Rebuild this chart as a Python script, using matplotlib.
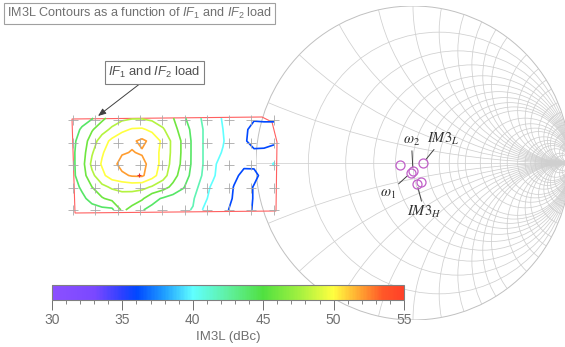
import matplotlib
matplotlib.use("Agg")
import matplotlib.pyplot as plt
import numpy as np
from matplotlib.cm import ScalarMappable
from matplotlib.colors import LinearSegmentedColormap, Normalize
from matplotlib.patches import Circle, Polygon
from matplotlib.ticker import MultipleLocator

plt.rcParams["font.family"] = ["Liberation Sans", "DejaVu Sans"]
plt.rcParams["mathtext.fontset"] = "custom"
plt.rcParams["mathtext.rm"] = "Liberation Sans"
plt.rcParams["mathtext.it"] = "Liberation Sans:italic"
plt.rcParams["mathtext.bf"] = "Liberation Sans:bold"

W, H = 565, 347

# Smith chart grid (normalised resistance / reactance)
smith_r = [0.2, 0.4, 0.6, 0.8, 1.0, 1.2, 1.4, 1.6, 1.8, 2.0, 2.5, 3.0, 3.5, 4.0, 5.0, 6.0, 7.0, 8.0,
           10.0, 15.0, 20.0, 50.0]
smith_x = [0.2, 0.4, 0.6, 0.8, 1.0, 1.2, 1.4, 1.6, 1.8, 2.0, 2.5, 3.0, 3.5, 4.0, 5.0, 6.0, 7.0, 8.0,
           10.0, 15.0, 20.0, 50.0]

# tone loads on the Smith chart (reflection coefficient)
gamma_re = [-0.013, 0.000, 0.064, 0.025, -0.083, 0.054]
gamma_im = [-0.061, -0.054, 0.000, -0.131, -0.013, -0.121]

# labels: text, text position (gamma), index of the load it points to
label_text = [r"$\omega_{1}$", r"$\omega_{2}$", r"$\mathit{IM3}_{L}$", r"$\mathit{IM3}_{H}$"]
label_re = [-0.160, -0.010, 0.190, 0.072]
label_im = [-0.195, 0.140, 0.155, -0.312]
label_target = [0, 1, 2, 3]

# IM3L map over the IF1/IF2 load plane (grid of values, dBc)
load_x = [72, 82, 92, 102, 112, 122, 132, 142, 152, 163, 173, 183, 193, 203, 213, 223, 234, 244, 254, 264, 274]
load_y = [118, 129.5, 141, 152.5, 164, 175.5, 187, 198.5, 210]
im3l = [
    [43.0, 43.4, 43.8, 45.5, 46.8, 47.5, 47.8, 47.8, 47.5, 47.0, 46.1, 44.3, 43.2, 41.7, 41.0, 39.8, 38.3, 36.8, 36.3, 36.5, 36.2],
    [43.3, 44.2, 45.8, 47.2, 48.4, 49.5, 50.2, 50.3, 49.5, 48.2, 46.8, 45.0, 43.5, 42.0, 41.2, 40.0, 38.2, 36.5, 35.2, 35.0, 35.6],
    [43.5, 44.8, 47.0, 49.0, 50.5, 51.5, 51.7, 52.4, 51.5, 49.5, 47.5, 45.6, 43.6, 42.0, 41.2, 40.2, 38.1, 36.3, 35.2, 35.0, 35.6],
    [43.6, 45.0, 47.8, 49.8, 51.0, 51.8, 52.1, 51.8, 51.0, 49.4, 47.5, 45.6, 43.6, 42.0, 41.0, 39.8, 37.8, 36.8, 36.4, 36.6, 36.8],
    [43.5, 45.2, 48.5, 50.2, 51.3, 52.7, 53.2, 52.6, 51.2, 49.3, 47.3, 45.5, 43.6, 42.0, 40.5, 39.0, 37.5, 36.4, 36.3, 36.6, 40.5],
    [43.5, 45.0, 47.5, 49.5, 51.0, 51.6, 52.2, 52.3, 50.8, 48.8, 46.8, 45.0, 43.4, 41.8, 40.4, 38.5, 36.5, 35.4, 35.6, 36.5, 37.2],
    [43.2, 44.3, 46.0, 47.5, 48.3, 48.7, 48.8, 48.6, 47.8, 46.8, 45.5, 44.2, 42.8, 41.2, 39.5, 37.5, 35.9, 35.3, 36.1, 36.5, 36.8],
    [42.8, 43.6, 44.6, 45.8, 46.6, 47.0, 46.8, 46.3, 44.6, 43.8, 43.2, 42.8, 42.2, 40.6, 39.2, 37.0, 35.8, 35.3, 36.1, 36.5, 36.6],
    [42.5, 43.0, 43.3, 43.4, 43.5, 46.3, 45.5, 44.1, 43.5, 43.1, 42.7, 42.3, 41.9, 39.9, 38.8, 36.4, 35.6, 35.3, 36.2, 36.4, 36.5],
]
levels = [36, 40, 42, 44, 46, 48, 50, 52]

# measured load points and the edge of the measured region
cross_x = [73, 95, 118, 140, 162, 185, 207, 229, 251, 274]
cross_y = [120, 143, 165, 188, 210]
border_x = [72, 262, 272, 277, 276, 75]
border_y = [119, 117, 122, 142, 211, 213]
peak_x, peak_y = 139, 175

cbar_min, cbar_max = 30, 55
cbar_ticks = [30, 35, 40, 45, 50, 55]

cmap = LinearSegmentedColormap.from_list("im3", [
    (0.00, "#8c50ff"), (0.12, "#7a48ff"), (0.20, "#2a40ff"), (0.24, "#0048ff"),
    (0.32, "#20a0ff"), (0.40, "#60ffff"), (0.50, "#60f0a0"), (0.60, "#50e040"),
    (0.70, "#a0f040"), (0.80, "#ffff40"), (0.88, "#ffa030"), (0.94, "#ff5828"),
    (1.00, "#ff4028"),
])
norm = Normalize(cbar_min, cbar_max)

GRID = "#cfcfcf"
TEXT = "#707070"

fig = plt.figure(figsize=(W / 100, H / 100), dpi=100)

# ---- Smith chart (centre 413,163 px, radius 157 px)
cx, cy, R = 413, 163, 157
sax = fig.add_axes([(cx - R) / W, (H - cy - R) / H, 2 * R / W, 2 * R / H])
sax.set_xlim(-1, 1)
sax.set_ylim(-1, 1)
sax.axis("off")
unit = Circle((0, 0), 1, fill=False, ec="#c0c0c0", lw=0.7)
sax.add_patch(unit)
for r in smith_r:
    sax.add_patch(Circle((r / (1 + r), 0), 1 / (1 + r), fill=False, ec=GRID, lw=0.55))
for x in smith_x:
    for s in (1, -1):
        arc = Circle((1, s / x), 1 / x, fill=False, ec=GRID, lw=0.55)
        sax.add_patch(arc)
        arc.set_clip_path(unit)
sax.plot([-1, 1], [0, 0], color=GRID, lw=0.55)

sax.plot(gamma_re, gamma_im, "o", ms=6.5, mfc="none", mec="#c060c8", mew=0.9, zorder=5)
for t, lx, ly, i in zip(label_text, label_re, label_im, label_target):
    sax.annotate(t, xy=(gamma_re[i], gamma_im[i]), xytext=(lx, ly), ha="center", va="center",
                 fontsize=10.5, color="#303030", math_fontfamily="stix",
                 arrowprops=dict(arrowstyle="-", color="#404040", lw=0.7, shrinkA=0, shrinkB=3))

# ---- overlay in pixel units: title, contour map, annotation
ax = fig.add_axes([0, 0, 1, 1])
ax.set_xlim(0, W)
ax.set_ylim(H, 0)
ax.axis("off")
ax.patch.set_alpha(0)

ax.contour(load_x, load_y, np.array(im3l), levels=levels, cmap=cmap, norm=norm, linewidths=1.2)
gx, gy = np.meshgrid(cross_x, cross_y)
ax.plot(gx.ravel(), gy.ravel(), "+", ms=7, color="#a8a8a8", mew=0.6)
ax.plot([peak_x], [peak_y], "+", ms=3.5, color="#e03030", mew=0.8)
ax.add_patch(Polygon(list(zip(border_x, border_y)), closed=True, fill=False, ec="#ff6060", lw=0.8))

ax.text(7, 13.5, r"IM3L Contours as a function of $IF_1$ and $IF_2$ load", fontsize=9.1,
        color=TEXT, ha="left", va="center",
        bbox=dict(boxstyle="square,pad=0.25", fc="white", ec="#a0a0a0", lw=0.8))
ax.annotate(r"$IF_1$ and $IF_2$ load", xy=(98, 116), xytext=(154.5, 72.5), fontsize=9.4,
            color="#505050", ha="center", va="center",
            bbox=dict(boxstyle="square,pad=0.3", fc="white", ec="#808080", lw=0.8),
            arrowprops=dict(arrowstyle="-|>,head_length=0.5,head_width=0.2", color="#404040",
                            lw=0.7, shrinkA=0, shrinkB=0))

# ---- colour bar
cax = fig.add_axes([52 / W, 1 - 300 / H, 352 / W, 15 / H])
cb = fig.colorbar(ScalarMappable(norm=norm, cmap=cmap), cax=cax, orientation="horizontal", ticks=cbar_ticks)
cb.outline.set_edgecolor("#808080")
cb.outline.set_linewidth(0.8)
cax.xaxis.set_minor_locator(MultipleLocator(1))
cax.tick_params(which="major", length=7, width=0.7, color="#707070", labelsize=10, labelcolor=TEXT, pad=2)
cax.tick_params(which="minor", length=3, width=0.6, color="#707070")
cb.set_label("IM3L (dBc)", fontsize=9.5, color=TEXT, labelpad=3)

fig.savefig("out.png", dpi=100)
